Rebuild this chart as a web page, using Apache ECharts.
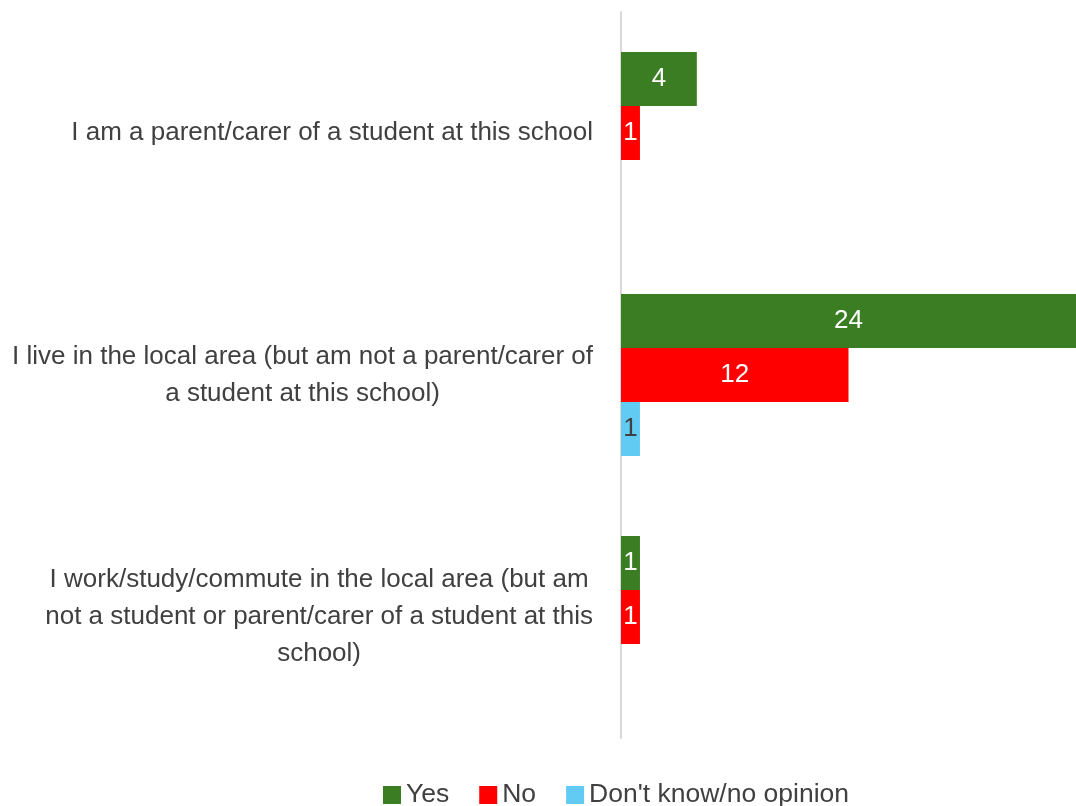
<!DOCTYPE html>
<html>
<head>
<meta charset="utf-8">
<script src="https://cdn.jsdelivr.net/npm/echarts@6/dist/echarts.min.js"></script>
<style>
  html, body { margin: 0; padding: 0; background: #ffffff; }
  #chart { width: 1076px; height: 806px; }
</style>
</head>
<body>
<div id="chart"></div>
<script>
// Data
const categories = [
  'I am a parent/carer of a student at this school',
  'I live in the local area (but am not a parent/carer of\na student at this school)',
  'I work/study/commute in the local area (but am\nnot a student or parent/carer of a student at this\nschool)'
];
const seriesNames = ['Yes', 'No', "Don't know/no opinion"];
const yesValues = [4, 24, 1];
const noValues = [1, 12, 1];
const dontKnowValues = [null, 1, null];

const FONT = 'Liberation Sans, Arial, sans-serif';
const colors = ['#3B7D23', '#FF0000', '#61CBF4'];
const labelColors = ['#ffffff', '#ffffff', '#404040'];
const allValues = [yesValues, noValues, dontKnowValues];

const chart = echarts.init(document.getElementById('chart'), null, { renderer: 'canvas' });

const series = seriesNames.map((name, i) => ({
  name: name,
  type: 'bar',
  data: allValues[i],
  barWidth: 54,
  barGap: '0%',
  itemStyle: { color: colors[i] },
  label: {
    show: true,
    position: 'inside',
    color: labelColors[i],
    fontFamily: FONT,
    fontSize: 26
  },
  emphasis: { disabled: true }
}));

chart.setOption({
  animation: false,
  color: colors,
  grid: { left: 621, right: -9, top: 12, bottom: 68, containLabel: false },
  xAxis: {
    type: 'value',
    min: 0,
    max: 24,
    show: false
  },
  yAxis: {
    type: 'category',
    inverse: true,
    offset: 1,
    data: categories,
    axisLine: { show: true, lineStyle: { color: '#D9D9D9', width: 2 } },
    axisTick: { show: false },
    splitLine: { show: false },
    axisLabel: {
      interval: 0,
      margin: 27,
      align: 'right',
      formatter: function (v) {
        return v.split('\n').map(function (l) { return '{c|' + l + '}'; }).join('\n');
      },
      rich: {
        c: {
          align: 'center',
          fontFamily: FONT,
          fontSize: 26,
          lineHeight: 37,
          color: '#404040'
        }
      }
    }
  },
  legend: {
    data: seriesNames,
    left: 378,
    top: 776,
    icon: 'rect',
    itemWidth: 18,
    itemHeight: 18,
    itemGap: 30,
    textStyle: { fontFamily: FONT, fontSize: 26.5, color: '#404040', lineHeight: 28 }
  },
  series: series
});
</script>
</body>
</html>
